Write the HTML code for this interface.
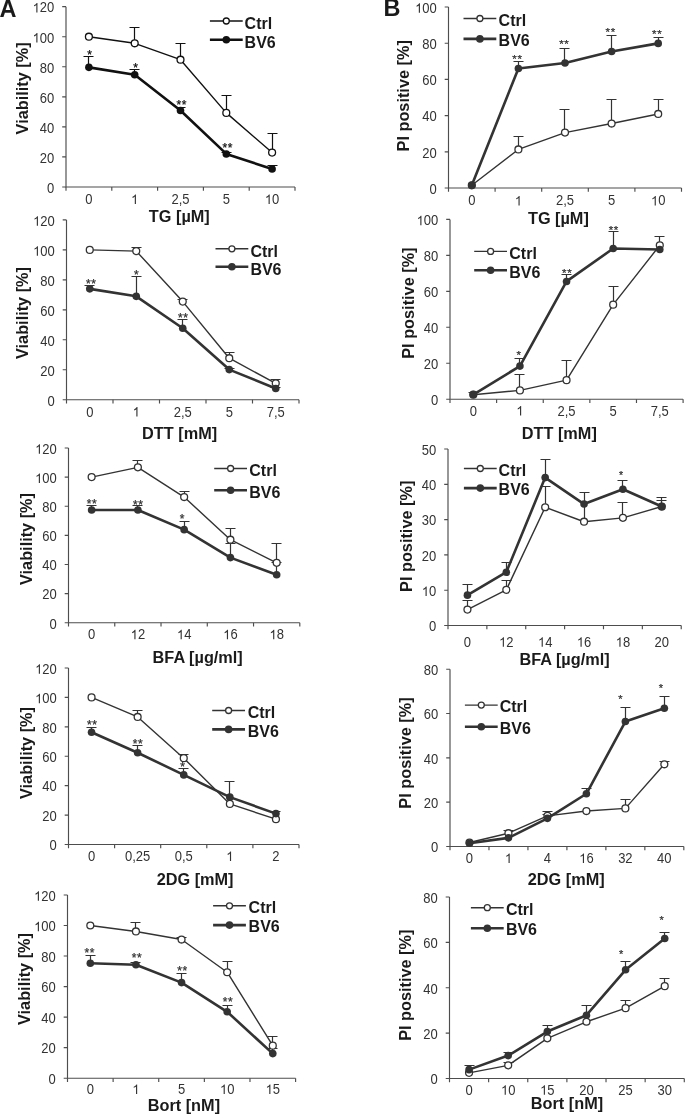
<!DOCTYPE html>
<html><head><meta charset="utf-8"><title>Figure</title>
<style>
html,body{margin:0;padding:0;background:#fff;}
svg{display:block;will-change:transform;}
text{font-family:"Liberation Sans", sans-serif;}
.tl{font-size:13px;fill:#333;}
.tt{font-size:16.3px;font-weight:bold;fill:#1a1a1a;}
.lg{font-size:16px;font-weight:bold;fill:#1a1a1a;}
.st{font-size:12px;}
.pl{font-size:23.5px;font-weight:bold;fill:#1a1a1a;}
</style></head>
<body>
<svg width="685" height="1114" viewBox="0 0 685 1114">
<rect width="685" height="1114" fill="#fff"/>
<text x="-0.5" y="17.2" class="pl">A</text>
<text x="383.4" y="16.4" class="pl">B</text>
<path d="M66 6.64V187H295" fill="none" stroke="#4d4d4d" stroke-width="1.15"/>
<path d="M62.2 187H66M62.2 156.94H66M62.2 126.88H66M62.2 96.82H66M62.2 66.76H66M62.2 36.7H66M62.2 6.64H66M66 187V190.8M111.8 187V190.8M157.6 187V190.8M203.4 187V190.8M249.2 187V190.8M295 187V190.8" fill="none" stroke="#4d4d4d" stroke-width="1.15"/>
<g transform="translate(47.07 192.8) scale(1 1.06)"><text x="0" y="0" class="tl">0</text></g>
<g transform="translate(39.84 162.74) scale(1 1.06)"><text x="0" y="0" class="tl">20</text></g>
<g transform="translate(39.84 132.68) scale(1 1.06)"><text x="0" y="0" class="tl">40</text></g>
<g transform="translate(39.84 102.62) scale(1 1.06)"><text x="0" y="0" class="tl">60</text></g>
<g transform="translate(39.84 72.56) scale(1 1.06)"><text x="0" y="0" class="tl">80</text></g>
<g transform="translate(32.61 42.5) scale(1 1.06)"><text x="0" y="0" class="tl"> 00</text><path transform="translate(0 0) scale(0.00635 -0.00635)" d="M763 0L583 0L583 1102C540 1063 483 1023 413 983C343 944 280 914 224 894L224 1061C325 1106 413 1161 489 1224C565 1288 618 1349 649 1409L763 1409Z" fill="#333"/></g>
<g transform="translate(32.61 12.44) scale(1 1.06)"><text x="0" y="0" class="tl"> 20</text><path transform="translate(0 0) scale(0.00635 -0.00635)" d="M763 0L583 0L583 1102C540 1063 483 1023 413 983C343 944 280 914 224 894L224 1061C325 1106 413 1161 489 1224C565 1288 618 1349 649 1409L763 1409Z" fill="#333"/></g>
<g transform="translate(85.29 204) scale(1 1.06)"><text x="0" y="0" class="tl">0</text></g>
<g transform="translate(131.09 204) scale(1 1.06)"><path transform="translate(0 0) scale(0.00635 -0.00635)" d="M763 0L583 0L583 1102C540 1063 483 1023 413 983C343 944 280 914 224 894L224 1061C325 1106 413 1161 489 1224C565 1288 618 1349 649 1409L763 1409Z" fill="#333"/></g>
<g transform="translate(171.46 204) scale(1 1.06)"><text x="0" y="0" class="tl">2,5</text></g>
<g transform="translate(222.69 204) scale(1 1.06)"><text x="0" y="0" class="tl">5</text></g>
<g transform="translate(264.87 204) scale(1 1.06)"><text x="0" y="0" class="tl"> 0</text><path transform="translate(0 0) scale(0.00635 -0.00635)" d="M763 0L583 0L583 1102C540 1063 483 1023 413 983C343 944 280 914 224 894L224 1061C325 1106 413 1161 489 1224C565 1288 618 1349 649 1409L763 1409Z" fill="#333"/></g>
<text x="179.3" y="221.8" text-anchor="middle" class="tt">TG [µM]</text>
<text transform="translate(27.5 88.4) rotate(-90)" text-anchor="middle" class="tt" font-size="16.3">Viability [%]</text>
<path d="M134.5 43.31V27.5M129.5 27.5H139.5M180.5 59.7V43.5M175.5 43.5H185.5M226.5 112.9V95.5M221.5 95.5H231.5M272.5 152.58V133.5M267.5 133.5H277.5" fill="none" stroke="#111" stroke-width="1.2"/>
<path d="M88.5 67.36V56.5M83.5 56.5H93.5M134.5 74.73V69.5M129.5 69.5H139.5M180.5 110.5V107.5M175.5 107.5H185.5M226.5 153.93V152.5M221.5 152.5H231.5M272.5 168.96V165.5M267.5 165.5H277.5" fill="none" stroke="#111" stroke-width="1.2"/>
<polyline points="88.9,36.7 134.7,43.31 180.5,59.7 226.3,112.9 272.1,152.58" fill="none" stroke="#111" stroke-width="1.4" stroke-linejoin="round"/>
<circle cx="88.9" cy="36.7" r="3.45" fill="#fff" stroke="#111" stroke-width="1.3"/>
<circle cx="134.7" cy="43.31" r="3.45" fill="#fff" stroke="#111" stroke-width="1.3"/>
<circle cx="180.5" cy="59.7" r="3.45" fill="#fff" stroke="#111" stroke-width="1.3"/>
<circle cx="226.3" cy="112.9" r="3.45" fill="#fff" stroke="#111" stroke-width="1.3"/>
<circle cx="272.1" cy="152.58" r="3.45" fill="#fff" stroke="#111" stroke-width="1.3"/>
<polyline points="88.9,67.36 134.7,74.73 180.5,110.5 226.3,153.93 272.1,168.96" fill="none" stroke="#111" stroke-width="2.6" stroke-linejoin="round"/>
<circle cx="88.9" cy="67.36" r="3.8" fill="#111"/>
<circle cx="134.7" cy="74.73" r="3.8" fill="#111"/>
<circle cx="180.5" cy="110.5" r="3.8" fill="#111"/>
<circle cx="226.3" cy="153.93" r="3.8" fill="#111"/>
<circle cx="272.1" cy="168.96" r="3.8" fill="#111"/>
<text x="89.5" y="58.9" text-anchor="middle" font-size="12" fill="#111" stroke="#111" stroke-width="0.25">*</text>
<text x="135.5" y="71.5" text-anchor="middle" font-size="12" fill="#111" stroke="#111" stroke-width="0.25">*</text>
<text x="178.8" y="109.4" text-anchor="middle" font-size="12" fill="#111" stroke="#111" stroke-width="0.25">*</text>
<text x="184" y="109.4" text-anchor="middle" font-size="12" fill="#111" stroke="#111" stroke-width="0.25">*</text>
<text x="224.9" y="152.1" text-anchor="middle" font-size="12" fill="#111" stroke="#111" stroke-width="0.25">*</text>
<text x="230.1" y="152.1" text-anchor="middle" font-size="12" fill="#111" stroke="#111" stroke-width="0.25">*</text>
<path d="M209.9 21H242.7" stroke="#111" stroke-width="1.4"/>
<circle cx="226.3" cy="21" r="3.0" fill="#fff" stroke="#111" stroke-width="1.3"/>
<path d="M209.9 39.8H242.7" stroke="#111" stroke-width="2.6"/>
<circle cx="226.3" cy="39.8" r="3.8" fill="#111"/>
<text x="244.6" y="28.8" class="lg">Ctrl</text>
<text x="244.6" y="47.6" class="lg">BV6</text>
<path d="M66.5 219.94V399.7H299" fill="none" stroke="#4d4d4d" stroke-width="1.15"/>
<path d="M62.7 399.7H66.5M62.7 369.74H66.5M62.7 339.78H66.5M62.7 309.82H66.5M62.7 279.86H66.5M62.7 249.9H66.5M62.7 219.94H66.5M66.5 399.7V403.5M113 399.7V403.5M159.5 399.7V403.5M206 399.7V403.5M252.5 399.7V403.5M299 399.7V403.5" fill="none" stroke="#4d4d4d" stroke-width="1.15"/>
<g transform="translate(47.57 405.5) scale(1 1.06)"><text x="0" y="0" class="tl">0</text></g>
<g transform="translate(40.34 375.54) scale(1 1.06)"><text x="0" y="0" class="tl">20</text></g>
<g transform="translate(40.34 345.58) scale(1 1.06)"><text x="0" y="0" class="tl">40</text></g>
<g transform="translate(40.34 315.62) scale(1 1.06)"><text x="0" y="0" class="tl">60</text></g>
<g transform="translate(40.34 285.66) scale(1 1.06)"><text x="0" y="0" class="tl">80</text></g>
<g transform="translate(33.11 255.7) scale(1 1.06)"><text x="0" y="0" class="tl"> 00</text><path transform="translate(0 0) scale(0.00635 -0.00635)" d="M763 0L583 0L583 1102C540 1063 483 1023 413 983C343 944 280 914 224 894L224 1061C325 1106 413 1161 489 1224C565 1288 618 1349 649 1409L763 1409Z" fill="#333"/></g>
<g transform="translate(33.11 225.74) scale(1 1.06)"><text x="0" y="0" class="tl"> 20</text><path transform="translate(0 0) scale(0.00635 -0.00635)" d="M763 0L583 0L583 1102C540 1063 483 1023 413 983C343 944 280 914 224 894L224 1061C325 1106 413 1161 489 1224C565 1288 618 1349 649 1409L763 1409Z" fill="#333"/></g>
<g transform="translate(86.14 416.6) scale(1 1.06)"><text x="0" y="0" class="tl">0</text></g>
<g transform="translate(132.64 416.6) scale(1 1.06)"><path transform="translate(0 0) scale(0.00635 -0.00635)" d="M763 0L583 0L583 1102C540 1063 483 1023 413 983C343 944 280 914 224 894L224 1061C325 1106 413 1161 489 1224C565 1288 618 1349 649 1409L763 1409Z" fill="#333"/></g>
<g transform="translate(173.71 416.6) scale(1 1.06)"><text x="0" y="0" class="tl">2,5</text></g>
<g transform="translate(225.64 416.6) scale(1 1.06)"><text x="0" y="0" class="tl">5</text></g>
<g transform="translate(266.71 416.6) scale(1 1.06)"><text x="0" y="0" class="tl">7,5</text></g>
<text x="179.6" y="439.2" text-anchor="middle" class="tt">DTT [mM]</text>
<text transform="translate(28.4 313) rotate(-90)" text-anchor="middle" class="tt" font-size="16.3">Viability [%]</text>
<path d="M136.5 251.1V247.5M131.5 247.5H141.5M182.5 301.58V299.5M177.5 299.5H187.5M229.5 358.21V352.5M224.5 352.5H234.5M275.5 383.37V379.5M270.5 379.5H280.5" fill="none" stroke="#333" stroke-width="1.2"/>
<path d="M89.5 288.85V285.5M84.5 285.5H94.5M136.5 296.34V276.5M131.5 276.5H141.5M182.5 328.25V319.5M177.5 319.5H187.5M229.5 369.59V368.5M224.5 368.5H234.5M275.5 388.46V387.5M270.5 387.5H280.5" fill="none" stroke="#333" stroke-width="1.2"/>
<polyline points="89.75,249.9 136.25,251.1 182.75,301.58 229.25,358.21 275.75,383.37" fill="none" stroke="#333" stroke-width="1.4" stroke-linejoin="round"/>
<circle cx="89.75" cy="249.9" r="3.45" fill="#fff" stroke="#333" stroke-width="1.3"/>
<circle cx="136.25" cy="251.1" r="3.45" fill="#fff" stroke="#333" stroke-width="1.3"/>
<circle cx="182.75" cy="301.58" r="3.45" fill="#fff" stroke="#333" stroke-width="1.3"/>
<circle cx="229.25" cy="358.21" r="3.45" fill="#fff" stroke="#333" stroke-width="1.3"/>
<circle cx="275.75" cy="383.37" r="3.45" fill="#fff" stroke="#333" stroke-width="1.3"/>
<polyline points="89.75,288.85 136.25,296.34 182.75,328.25 229.25,369.59 275.75,388.46" fill="none" stroke="#333" stroke-width="2.6" stroke-linejoin="round"/>
<circle cx="89.75" cy="288.85" r="3.8" fill="#333"/>
<circle cx="136.25" cy="296.34" r="3.8" fill="#333"/>
<circle cx="182.75" cy="328.25" r="3.8" fill="#333"/>
<circle cx="229.25" cy="369.59" r="3.8" fill="#333"/>
<circle cx="275.75" cy="388.46" r="3.8" fill="#333"/>
<text x="88.4" y="287.9" text-anchor="middle" font-size="12" fill="#333" stroke="#333" stroke-width="0.25">*</text>
<text x="93.6" y="287.9" text-anchor="middle" font-size="12" fill="#333" stroke="#333" stroke-width="0.25">*</text>
<text x="136.25" y="278.8" text-anchor="middle" font-size="12" fill="#333" stroke="#333" stroke-width="0.25">*</text>
<text x="180.4" y="321.9" text-anchor="middle" font-size="12" fill="#333" stroke="#333" stroke-width="0.25">*</text>
<text x="185.6" y="321.9" text-anchor="middle" font-size="12" fill="#333" stroke="#333" stroke-width="0.25">*</text>
<path d="M215.5 248.8H248.3" stroke="#333" stroke-width="1.4"/>
<circle cx="231.9" cy="248.8" r="3.0" fill="#fff" stroke="#333" stroke-width="1.3"/>
<path d="M215.5 266.8H248.3" stroke="#333" stroke-width="2.6"/>
<circle cx="231.9" cy="266.8" r="3.8" fill="#333"/>
<text x="250.4" y="256.5" class="lg">Ctrl</text>
<text x="250.4" y="274.5" class="lg">BV6</text>
<path d="M68.5 447.98V622.7H299.8" fill="none" stroke="#4d4d4d" stroke-width="1.15"/>
<path d="M64.7 622.7H68.5M64.7 593.58H68.5M64.7 564.46H68.5M64.7 535.34H68.5M64.7 506.22H68.5M64.7 477.1H68.5M64.7 447.98H68.5M68.5 622.7V626.5M114.76 622.7V626.5M161.02 622.7V626.5M207.28 622.7V626.5M253.54 622.7V626.5M299.8 622.7V626.5" fill="none" stroke="#4d4d4d" stroke-width="1.15"/>
<g transform="translate(49.57 628.5) scale(1 1.06)"><text x="0" y="0" class="tl">0</text></g>
<g transform="translate(42.34 599.38) scale(1 1.06)"><text x="0" y="0" class="tl">20</text></g>
<g transform="translate(42.34 570.26) scale(1 1.06)"><text x="0" y="0" class="tl">40</text></g>
<g transform="translate(42.34 541.14) scale(1 1.06)"><text x="0" y="0" class="tl">60</text></g>
<g transform="translate(42.34 512.02) scale(1 1.06)"><text x="0" y="0" class="tl">80</text></g>
<g transform="translate(35.11 482.9) scale(1 1.06)"><text x="0" y="0" class="tl"> 00</text><path transform="translate(0 0) scale(0.00635 -0.00635)" d="M763 0L583 0L583 1102C540 1063 483 1023 413 983C343 944 280 914 224 894L224 1061C325 1106 413 1161 489 1224C565 1288 618 1349 649 1409L763 1409Z" fill="#333"/></g>
<g transform="translate(35.11 453.78) scale(1 1.06)"><text x="0" y="0" class="tl"> 20</text><path transform="translate(0 0) scale(0.00635 -0.00635)" d="M763 0L583 0L583 1102C540 1063 483 1023 413 983C343 944 280 914 224 894L224 1061C325 1106 413 1161 489 1224C565 1288 618 1349 649 1409L763 1409Z" fill="#333"/></g>
<g transform="translate(88.02 639.3) scale(1 1.06)"><text x="0" y="0" class="tl">0</text></g>
<g transform="translate(130.66 639.3) scale(1 1.06)"><text x="0" y="0" class="tl"> 2</text><path transform="translate(0 0) scale(0.00635 -0.00635)" d="M763 0L583 0L583 1102C540 1063 483 1023 413 983C343 944 280 914 224 894L224 1061C325 1106 413 1161 489 1224C565 1288 618 1349 649 1409L763 1409Z" fill="#333"/></g>
<g transform="translate(176.92 639.3) scale(1 1.06)"><text x="0" y="0" class="tl"> 4</text><path transform="translate(0 0) scale(0.00635 -0.00635)" d="M763 0L583 0L583 1102C540 1063 483 1023 413 983C343 944 280 914 224 894L224 1061C325 1106 413 1161 489 1224C565 1288 618 1349 649 1409L763 1409Z" fill="#333"/></g>
<g transform="translate(223.18 639.3) scale(1 1.06)"><text x="0" y="0" class="tl"> 6</text><path transform="translate(0 0) scale(0.00635 -0.00635)" d="M763 0L583 0L583 1102C540 1063 483 1023 413 983C343 944 280 914 224 894L224 1061C325 1106 413 1161 489 1224C565 1288 618 1349 649 1409L763 1409Z" fill="#333"/></g>
<g transform="translate(269.44 639.3) scale(1 1.06)"><text x="0" y="0" class="tl"> 8</text><path transform="translate(0 0) scale(0.00635 -0.00635)" d="M763 0L583 0L583 1102C540 1063 483 1023 413 983C343 944 280 914 224 894L224 1061C325 1106 413 1161 489 1224C565 1288 618 1349 649 1409L763 1409Z" fill="#333"/></g>
<text x="197.7" y="663.4" text-anchor="middle" class="tt" font-size="16.5">BFA [µg/ml]</text>
<text transform="translate(32 539) rotate(-90)" text-anchor="middle" class="tt" font-size="16.3">Viability [%]</text>
<path d="M137.5 467.34V460.5M132.5 460.5H142.5M184.5 497.05V491.5M179.5 491.5H189.5M230.5 539.71V528.5M225.5 528.5H235.5M276.5 562.86V543.5M271.5 543.5H281.5" fill="none" stroke="#333" stroke-width="1.2"/>
<path d="M91.5 510.01V505.5M86.5 505.5H96.5M137.5 510.01V505.5M132.5 505.5H142.5M184.5 529.66V521.5M179.5 521.5H189.5M230.5 557.62V543.5M225.5 543.5H235.5M276.5 574.8V562.5M271.5 562.5H281.5" fill="none" stroke="#333" stroke-width="1.2"/>
<polyline points="91.63,477.1 137.89,467.34 184.15,497.05 230.41,539.71 276.67,562.86" fill="none" stroke="#333" stroke-width="1.4" stroke-linejoin="round"/>
<circle cx="91.63" cy="477.1" r="3.45" fill="#fff" stroke="#333" stroke-width="1.3"/>
<circle cx="137.89" cy="467.34" r="3.45" fill="#fff" stroke="#333" stroke-width="1.3"/>
<circle cx="184.15" cy="497.05" r="3.45" fill="#fff" stroke="#333" stroke-width="1.3"/>
<circle cx="230.41" cy="539.71" r="3.45" fill="#fff" stroke="#333" stroke-width="1.3"/>
<circle cx="276.67" cy="562.86" r="3.45" fill="#fff" stroke="#333" stroke-width="1.3"/>
<polyline points="91.63,510.01 137.89,510.01 184.15,529.66 230.41,557.62 276.67,574.8" fill="none" stroke="#333" stroke-width="2.6" stroke-linejoin="round"/>
<circle cx="91.63" cy="510.01" r="3.8" fill="#333"/>
<circle cx="137.89" cy="510.01" r="3.8" fill="#333"/>
<circle cx="184.15" cy="529.66" r="3.8" fill="#333"/>
<circle cx="230.41" cy="557.62" r="3.8" fill="#333"/>
<circle cx="276.67" cy="574.8" r="3.8" fill="#333"/>
<text x="89.13" y="507.6" text-anchor="middle" font-size="12" fill="#333" stroke="#333" stroke-width="0.25">*</text>
<text x="94.33" y="507.6" text-anchor="middle" font-size="12" fill="#333" stroke="#333" stroke-width="0.25">*</text>
<text x="135.39" y="509.4" text-anchor="middle" font-size="12" fill="#333" stroke="#333" stroke-width="0.25">*</text>
<text x="140.59" y="509.4" text-anchor="middle" font-size="12" fill="#333" stroke="#333" stroke-width="0.25">*</text>
<text x="182.15" y="523.2" text-anchor="middle" font-size="12" fill="#333" stroke="#333" stroke-width="0.25">*</text>
<path d="M214.2 468.5H247" stroke="#333" stroke-width="1.4"/>
<circle cx="230.6" cy="468.5" r="3.0" fill="#fff" stroke="#333" stroke-width="1.3"/>
<path d="M214.2 490.2H247" stroke="#333" stroke-width="2.6"/>
<circle cx="230.6" cy="490.2" r="3.8" fill="#333"/>
<text x="249.3" y="476" class="lg">Ctrl</text>
<text x="249.3" y="497.7" class="lg">BV6</text>
<path d="M68.5 667.98V844.5H299" fill="none" stroke="#4d4d4d" stroke-width="1.15"/>
<path d="M64.7 844.5H68.5M64.7 815.08H68.5M64.7 785.66H68.5M64.7 756.24H68.5M64.7 726.82H68.5M64.7 697.4H68.5M64.7 667.98H68.5M68.5 844.5V848.3M114.6 844.5V848.3M160.7 844.5V848.3M206.8 844.5V848.3M252.9 844.5V848.3M299 844.5V848.3" fill="none" stroke="#4d4d4d" stroke-width="1.15"/>
<g transform="translate(49.57 850.3) scale(1 1.06)"><text x="0" y="0" class="tl">0</text></g>
<g transform="translate(42.34 820.88) scale(1 1.06)"><text x="0" y="0" class="tl">20</text></g>
<g transform="translate(42.34 791.46) scale(1 1.06)"><text x="0" y="0" class="tl">40</text></g>
<g transform="translate(42.34 762.04) scale(1 1.06)"><text x="0" y="0" class="tl">60</text></g>
<g transform="translate(42.34 732.62) scale(1 1.06)"><text x="0" y="0" class="tl">80</text></g>
<g transform="translate(35.11 703.2) scale(1 1.06)"><text x="0" y="0" class="tl"> 00</text><path transform="translate(0 0) scale(0.00635 -0.00635)" d="M763 0L583 0L583 1102C540 1063 483 1023 413 983C343 944 280 914 224 894L224 1061C325 1106 413 1161 489 1224C565 1288 618 1349 649 1409L763 1409Z" fill="#333"/></g>
<g transform="translate(35.11 673.78) scale(1 1.06)"><text x="0" y="0" class="tl"> 20</text><path transform="translate(0 0) scale(0.00635 -0.00635)" d="M763 0L583 0L583 1102C540 1063 483 1023 413 983C343 944 280 914 224 894L224 1061C325 1106 413 1161 489 1224C565 1288 618 1349 649 1409L763 1409Z" fill="#333"/></g>
<g transform="translate(87.94 861) scale(1 1.06)"><text x="0" y="0" class="tl">0</text></g>
<g transform="translate(125 861) scale(1 1.06)"><text x="0" y="0" class="tl">0,25</text></g>
<g transform="translate(174.71 861) scale(1 1.06)"><text x="0" y="0" class="tl">0,5</text></g>
<g transform="translate(226.24 861) scale(1 1.06)"><path transform="translate(0 0) scale(0.00635 -0.00635)" d="M763 0L583 0L583 1102C540 1063 483 1023 413 983C343 944 280 914 224 894L224 1061C325 1106 413 1161 489 1224C565 1288 618 1349 649 1409L763 1409Z" fill="#333"/></g>
<g transform="translate(272.34 861) scale(1 1.06)"><text x="0" y="0" class="tl">2</text></g>
<text x="195.1" y="885" text-anchor="middle" class="tt">2DG [mM]</text>
<text transform="translate(32 753) rotate(-90)" text-anchor="middle" class="tt" font-size="16.3">Viability [%]</text>
<path d="M137.5 716.96V710.5M132.5 710.5H142.5M183.5 758.15V754.5M178.5 754.5H188.5" fill="none" stroke="#333" stroke-width="1.2"/>
<path d="M91.5 732.26V727.5M86.5 727.5H96.5M137.5 752.71V745.5M132.5 745.5H142.5M183.5 774.92V768.5M178.5 768.5H188.5M229.5 797.13V781.5M224.5 781.5H234.5M275.5 813.61V811.5M270.5 811.5H280.5" fill="none" stroke="#333" stroke-width="1.2"/>
<polyline points="91.55,697.4 137.65,716.96 183.75,758.15 229.85,803.9 275.95,819.2" fill="none" stroke="#333" stroke-width="1.4" stroke-linejoin="round"/>
<circle cx="91.55" cy="697.4" r="3.45" fill="#fff" stroke="#333" stroke-width="1.3"/>
<circle cx="137.65" cy="716.96" r="3.45" fill="#fff" stroke="#333" stroke-width="1.3"/>
<circle cx="183.75" cy="758.15" r="3.45" fill="#fff" stroke="#333" stroke-width="1.3"/>
<circle cx="229.85" cy="803.9" r="3.45" fill="#fff" stroke="#333" stroke-width="1.3"/>
<circle cx="275.95" cy="819.2" r="3.45" fill="#fff" stroke="#333" stroke-width="1.3"/>
<polyline points="91.55,732.26 137.65,752.71 183.75,774.92 229.85,797.13 275.95,813.61" fill="none" stroke="#333" stroke-width="2.6" stroke-linejoin="round"/>
<circle cx="91.55" cy="732.26" r="3.8" fill="#333"/>
<circle cx="137.65" cy="752.71" r="3.8" fill="#333"/>
<circle cx="183.75" cy="774.92" r="3.8" fill="#333"/>
<circle cx="229.85" cy="797.13" r="3.8" fill="#333"/>
<circle cx="275.95" cy="813.61" r="3.8" fill="#333"/>
<text x="89.35" y="729.3" text-anchor="middle" font-size="12" fill="#333" stroke="#333" stroke-width="0.25">*</text>
<text x="94.55" y="729.3" text-anchor="middle" font-size="12" fill="#333" stroke="#333" stroke-width="0.25">*</text>
<text x="135.05" y="747.7" text-anchor="middle" font-size="12" fill="#333" stroke="#333" stroke-width="0.25">*</text>
<text x="140.25" y="747.7" text-anchor="middle" font-size="12" fill="#333" stroke="#333" stroke-width="0.25">*</text>
<text x="182.65" y="771.4" text-anchor="middle" font-size="12" fill="#333" stroke="#333" stroke-width="0.25">*</text>
<path d="M212.2 710.5H245" stroke="#333" stroke-width="1.4"/>
<circle cx="228.6" cy="710.5" r="3.0" fill="#fff" stroke="#333" stroke-width="1.3"/>
<path d="M212.2 729.4H245" stroke="#333" stroke-width="2.6"/>
<circle cx="228.6" cy="729.4" r="3.8" fill="#333"/>
<text x="247.7" y="717.9" class="lg">Ctrl</text>
<text x="247.7" y="736.8" class="lg">BV6</text>
<path d="M67.5 894.96V1078.2H295.6" fill="none" stroke="#4d4d4d" stroke-width="1.15"/>
<path d="M63.7 1078.2H67.5M63.7 1047.66H67.5M63.7 1017.12H67.5M63.7 986.58H67.5M63.7 956.04H67.5M63.7 925.5H67.5M63.7 894.96H67.5M67.5 1078.2V1082M113.12 1078.2V1082M158.74 1078.2V1082M204.36 1078.2V1082M249.98 1078.2V1082M295.6 1078.2V1082" fill="none" stroke="#4d4d4d" stroke-width="1.15"/>
<g transform="translate(48.57 1084) scale(1 1.06)"><text x="0" y="0" class="tl">0</text></g>
<g transform="translate(41.34 1053.46) scale(1 1.06)"><text x="0" y="0" class="tl">20</text></g>
<g transform="translate(41.34 1022.92) scale(1 1.06)"><text x="0" y="0" class="tl">40</text></g>
<g transform="translate(41.34 992.38) scale(1 1.06)"><text x="0" y="0" class="tl">60</text></g>
<g transform="translate(41.34 961.84) scale(1 1.06)"><text x="0" y="0" class="tl">80</text></g>
<g transform="translate(34.11 931.3) scale(1 1.06)"><text x="0" y="0" class="tl"> 00</text><path transform="translate(0 0) scale(0.00635 -0.00635)" d="M763 0L583 0L583 1102C540 1063 483 1023 413 983C343 944 280 914 224 894L224 1061C325 1106 413 1161 489 1224C565 1288 618 1349 649 1409L763 1409Z" fill="#333"/></g>
<g transform="translate(34.11 900.76) scale(1 1.06)"><text x="0" y="0" class="tl"> 20</text><path transform="translate(0 0) scale(0.00635 -0.00635)" d="M763 0L583 0L583 1102C540 1063 483 1023 413 983C343 944 280 914 224 894L224 1061C325 1106 413 1161 489 1224C565 1288 618 1349 649 1409L763 1409Z" fill="#333"/></g>
<g transform="translate(86.7 1093.9) scale(1 1.06)"><text x="0" y="0" class="tl">0</text></g>
<g transform="translate(132.32 1093.9) scale(1 1.06)"><path transform="translate(0 0) scale(0.00635 -0.00635)" d="M763 0L583 0L583 1102C540 1063 483 1023 413 983C343 944 280 914 224 894L224 1061C325 1106 413 1161 489 1224C565 1288 618 1349 649 1409L763 1409Z" fill="#333"/></g>
<g transform="translate(177.94 1093.9) scale(1 1.06)"><text x="0" y="0" class="tl">5</text></g>
<g transform="translate(219.94 1093.9) scale(1 1.06)"><text x="0" y="0" class="tl"> 0</text><path transform="translate(0 0) scale(0.00635 -0.00635)" d="M763 0L583 0L583 1102C540 1063 483 1023 413 983C343 944 280 914 224 894L224 1061C325 1106 413 1161 489 1224C565 1288 618 1349 649 1409L763 1409Z" fill="#333"/></g>
<g transform="translate(265.56 1093.9) scale(1 1.06)"><text x="0" y="0" class="tl"> 5</text><path transform="translate(0 0) scale(0.00635 -0.00635)" d="M763 0L583 0L583 1102C540 1063 483 1023 413 983C343 944 280 914 224 894L224 1061C325 1106 413 1161 489 1224C565 1288 618 1349 649 1409L763 1409Z" fill="#333"/></g>
<text x="183.9" y="1110.5" text-anchor="middle" class="tt">Bort [nM]</text>
<text transform="translate(29.6 979) rotate(-90)" text-anchor="middle" class="tt" font-size="16.3">Viability [%]</text>
<path d="M135.5 931.46V922.5M130.5 922.5H140.5M181.5 939.55V937.5M176.5 937.5H186.5M227.5 972.23V961.5M222.5 961.5H232.5M272.5 1045.67V1036.5M267.5 1036.5H277.5" fill="none" stroke="#333" stroke-width="1.2"/>
<path d="M90.5 963.22V955.5M85.5 955.5H95.5M135.5 964.74V962.5M130.5 962.5H140.5M181.5 982.61V973.5M176.5 973.5H186.5M227.5 1011.78V1005.5M222.5 1005.5H232.5M272.5 1053.62V1048.5M267.5 1048.5H277.5" fill="none" stroke="#333" stroke-width="1.2"/>
<polyline points="90.31,925.5 135.93,931.46 181.55,939.55 227.17,972.23 272.79,1045.67" fill="none" stroke="#333" stroke-width="1.4" stroke-linejoin="round"/>
<circle cx="90.31" cy="925.5" r="3.45" fill="#fff" stroke="#333" stroke-width="1.3"/>
<circle cx="135.93" cy="931.46" r="3.45" fill="#fff" stroke="#333" stroke-width="1.3"/>
<circle cx="181.55" cy="939.55" r="3.45" fill="#fff" stroke="#333" stroke-width="1.3"/>
<circle cx="227.17" cy="972.23" r="3.45" fill="#fff" stroke="#333" stroke-width="1.3"/>
<circle cx="272.79" cy="1045.67" r="3.45" fill="#fff" stroke="#333" stroke-width="1.3"/>
<polyline points="90.31,963.22 135.93,964.74 181.55,982.61 227.17,1011.78 272.79,1053.62" fill="none" stroke="#333" stroke-width="2.6" stroke-linejoin="round"/>
<circle cx="90.31" cy="963.22" r="3.8" fill="#333"/>
<circle cx="135.93" cy="964.74" r="3.8" fill="#333"/>
<circle cx="181.55" cy="982.61" r="3.8" fill="#333"/>
<circle cx="227.17" cy="1011.78" r="3.8" fill="#333"/>
<circle cx="272.79" cy="1053.62" r="3.8" fill="#333"/>
<text x="86.91" y="956.5" text-anchor="middle" font-size="12" fill="#333" stroke="#333" stroke-width="0.25">*</text>
<text x="92.11" y="956.5" text-anchor="middle" font-size="12" fill="#333" stroke="#333" stroke-width="0.25">*</text>
<text x="134.13" y="962.4" text-anchor="middle" font-size="12" fill="#333" stroke="#333" stroke-width="0.25">*</text>
<text x="139.33" y="962.4" text-anchor="middle" font-size="12" fill="#333" stroke="#333" stroke-width="0.25">*</text>
<text x="179.55" y="975" text-anchor="middle" font-size="12" fill="#333" stroke="#333" stroke-width="0.25">*</text>
<text x="184.75" y="975" text-anchor="middle" font-size="12" fill="#333" stroke="#333" stroke-width="0.25">*</text>
<text x="225.07" y="1005.9" text-anchor="middle" font-size="12" fill="#333" stroke="#333" stroke-width="0.25">*</text>
<text x="230.27" y="1005.9" text-anchor="middle" font-size="12" fill="#333" stroke="#333" stroke-width="0.25">*</text>
<path d="M213.1 905.8H245.9" stroke="#333" stroke-width="1.4"/>
<circle cx="229.5" cy="905.8" r="3.0" fill="#fff" stroke="#333" stroke-width="1.3"/>
<path d="M213.1 925.1H245.9" stroke="#333" stroke-width="2.6"/>
<circle cx="229.5" cy="925.1" r="3.8" fill="#333"/>
<text x="248.6" y="912.7" class="lg">Ctrl</text>
<text x="248.6" y="932" class="lg">BV6</text>
<path d="M448.5 7V188H681.5" fill="none" stroke="#4d4d4d" stroke-width="1.15"/>
<path d="M444.7 188H448.5M444.7 151.8H448.5M444.7 115.6H448.5M444.7 79.4H448.5M444.7 43.2H448.5M444.7 7H448.5M448.5 188V191.8M495.1 188V191.8M541.7 188V191.8M588.3 188V191.8M634.9 188V191.8M681.5 188V191.8" fill="none" stroke="#4d4d4d" stroke-width="1.15"/>
<g transform="translate(429.57 193.8) scale(1 1.06)"><text x="0" y="0" class="tl">0</text></g>
<g transform="translate(422.34 157.6) scale(1 1.06)"><text x="0" y="0" class="tl">20</text></g>
<g transform="translate(422.34 121.4) scale(1 1.06)"><text x="0" y="0" class="tl">40</text></g>
<g transform="translate(422.34 85.2) scale(1 1.06)"><text x="0" y="0" class="tl">60</text></g>
<g transform="translate(422.34 49) scale(1 1.06)"><text x="0" y="0" class="tl">80</text></g>
<g transform="translate(415.11 12.8) scale(1 1.06)"><text x="0" y="0" class="tl"> 00</text><path transform="translate(0 0) scale(0.00635 -0.00635)" d="M763 0L583 0L583 1102C540 1063 483 1023 413 983C343 944 280 914 224 894L224 1061C325 1106 413 1161 489 1224C565 1288 618 1349 649 1409L763 1409Z" fill="#333"/></g>
<g transform="translate(468.19 205.4) scale(1 1.06)"><text x="0" y="0" class="tl">0</text></g>
<g transform="translate(514.79 205.4) scale(1 1.06)"><path transform="translate(0 0) scale(0.00635 -0.00635)" d="M763 0L583 0L583 1102C540 1063 483 1023 413 983C343 944 280 914 224 894L224 1061C325 1106 413 1161 489 1224C565 1288 618 1349 649 1409L763 1409Z" fill="#333"/></g>
<g transform="translate(555.96 205.4) scale(1 1.06)"><text x="0" y="0" class="tl">2,5</text></g>
<g transform="translate(607.99 205.4) scale(1 1.06)"><text x="0" y="0" class="tl">5</text></g>
<g transform="translate(650.97 205.4) scale(1 1.06)"><text x="0" y="0" class="tl"> 0</text><path transform="translate(0 0) scale(0.00635 -0.00635)" d="M763 0L583 0L583 1102C540 1063 483 1023 413 983C343 944 280 914 224 894L224 1061C325 1106 413 1161 489 1224C565 1288 618 1349 649 1409L763 1409Z" fill="#333"/></g>
<text x="558.4" y="224.2" text-anchor="middle" class="tt">TG [µM]</text>
<text transform="translate(409 95.8) rotate(-90)" text-anchor="middle" class="tt" font-size="16">PI positive [%]</text>
<path d="M518.5 149.45V136.5M513.5 136.5H523.5M564.5 132.61V109.5M559.5 109.5H569.5M611.5 123.56V99.5M606.5 99.5H616.5M658.5 113.97V99.5M653.5 99.5H663.5" fill="none" stroke="#333" stroke-width="1.2"/>
<path d="M518.5 68.54V61.5M513.5 61.5H523.5M564.5 62.93V48.5M559.5 48.5H569.5M611.5 51.53V35.5M606.5 35.5H616.5M658.5 43.38V37.5M653.5 37.5H663.5" fill="none" stroke="#333" stroke-width="1.2"/>
<polyline points="471.8,185.28 518.4,149.45 565,132.61 611.6,123.56 658.2,113.97" fill="none" stroke="#333" stroke-width="1.4" stroke-linejoin="round"/>
<circle cx="471.8" cy="185.28" r="3.45" fill="#fff" stroke="#333" stroke-width="1.3"/>
<circle cx="518.4" cy="149.45" r="3.45" fill="#fff" stroke="#333" stroke-width="1.3"/>
<circle cx="565" cy="132.61" r="3.45" fill="#fff" stroke="#333" stroke-width="1.3"/>
<circle cx="611.6" cy="123.56" r="3.45" fill="#fff" stroke="#333" stroke-width="1.3"/>
<circle cx="658.2" cy="113.97" r="3.45" fill="#fff" stroke="#333" stroke-width="1.3"/>
<polyline points="471.8,185.28 518.4,68.54 565,62.93 611.6,51.53 658.2,43.38" fill="none" stroke="#333" stroke-width="2.6" stroke-linejoin="round"/>
<circle cx="471.8" cy="185.28" r="3.8" fill="#333"/>
<circle cx="518.4" cy="68.54" r="3.8" fill="#333"/>
<circle cx="565" cy="62.93" r="3.8" fill="#333"/>
<circle cx="611.6" cy="51.53" r="3.8" fill="#333"/>
<circle cx="658.2" cy="43.38" r="3.8" fill="#333"/>
<text x="514.6" y="62.95" text-anchor="middle" font-size="11.5" fill="#333" stroke="#333" stroke-width="0.25">*</text>
<text x="519.8" y="62.95" text-anchor="middle" font-size="11.5" fill="#333" stroke="#333" stroke-width="0.25">*</text>
<text x="561.4" y="48.15" text-anchor="middle" font-size="11.5" fill="#333" stroke="#333" stroke-width="0.25">*</text>
<text x="566.6" y="48.15" text-anchor="middle" font-size="11.5" fill="#333" stroke="#333" stroke-width="0.25">*</text>
<text x="607.8" y="35.65" text-anchor="middle" font-size="11.5" fill="#333" stroke="#333" stroke-width="0.25">*</text>
<text x="613" y="35.65" text-anchor="middle" font-size="11.5" fill="#333" stroke="#333" stroke-width="0.25">*</text>
<text x="654.3" y="38.25" text-anchor="middle" font-size="11.5" fill="#333" stroke="#333" stroke-width="0.25">*</text>
<text x="659.5" y="38.25" text-anchor="middle" font-size="11.5" fill="#333" stroke="#333" stroke-width="0.25">*</text>
<path d="M463.5 18.5H496.3" stroke="#333" stroke-width="1.4"/>
<circle cx="479.9" cy="18.5" r="3.0" fill="#fff" stroke="#333" stroke-width="1.3"/>
<path d="M463.5 38.9H496.3" stroke="#333" stroke-width="2.6"/>
<circle cx="479.9" cy="38.9" r="3.8" fill="#333"/>
<text x="498.6" y="26" class="lg">Ctrl</text>
<text x="498.6" y="46.4" class="lg">BV6</text>
<path d="M450 219.4V399.2H683.1" fill="none" stroke="#4d4d4d" stroke-width="1.15"/>
<path d="M446.2 399.2H450M446.2 363.24H450M446.2 327.28H450M446.2 291.32H450M446.2 255.36H450M446.2 219.4H450M450 399.2V403M496.62 399.2V403M543.24 399.2V403M589.86 399.2V403M636.48 399.2V403M683.1 399.2V403" fill="none" stroke="#4d4d4d" stroke-width="1.15"/>
<g transform="translate(431.07 405) scale(1 1.06)"><text x="0" y="0" class="tl">0</text></g>
<g transform="translate(423.84 369.04) scale(1 1.06)"><text x="0" y="0" class="tl">20</text></g>
<g transform="translate(423.84 333.08) scale(1 1.06)"><text x="0" y="0" class="tl">40</text></g>
<g transform="translate(423.84 297.12) scale(1 1.06)"><text x="0" y="0" class="tl">60</text></g>
<g transform="translate(423.84 261.16) scale(1 1.06)"><text x="0" y="0" class="tl">80</text></g>
<g transform="translate(416.61 225.2) scale(1 1.06)"><text x="0" y="0" class="tl"> 00</text><path transform="translate(0 0) scale(0.00635 -0.00635)" d="M763 0L583 0L583 1102C540 1063 483 1023 413 983C343 944 280 914 224 894L224 1061C325 1106 413 1161 489 1224C565 1288 618 1349 649 1409L763 1409Z" fill="#333"/></g>
<g transform="translate(469.7 415.5) scale(1 1.06)"><text x="0" y="0" class="tl">0</text></g>
<g transform="translate(516.32 415.5) scale(1 1.06)"><path transform="translate(0 0) scale(0.00635 -0.00635)" d="M763 0L583 0L583 1102C540 1063 483 1023 413 983C343 944 280 914 224 894L224 1061C325 1106 413 1161 489 1224C565 1288 618 1349 649 1409L763 1409Z" fill="#333"/></g>
<g transform="translate(557.51 415.5) scale(1 1.06)"><text x="0" y="0" class="tl">2,5</text></g>
<g transform="translate(609.56 415.5) scale(1 1.06)"><text x="0" y="0" class="tl">5</text></g>
<g transform="translate(650.75 415.5) scale(1 1.06)"><text x="0" y="0" class="tl">7,5</text></g>
<text x="559.3" y="439.1" text-anchor="middle" class="tt">DTT [mM]</text>
<text transform="translate(414 303.1) rotate(-90)" text-anchor="middle" class="tt" font-size="16">PI positive [%]</text>
<path d="M519.5 390.39V374.5M514.5 374.5H524.5M566.5 380.14V360.5M561.5 360.5H571.5M613.5 304.63V286.5M608.5 286.5H618.5M659.5 245.29V236.5M654.5 236.5H664.5" fill="none" stroke="#333" stroke-width="1.2"/>
<path d="M473.5 394.53V392.5M468.5 392.5H478.5M519.5 366.12V358.5M514.5 358.5H524.5M566.5 281.43V274.5M561.5 274.5H571.5M613.5 248.53V231.5M608.5 231.5H618.5" fill="none" stroke="#333" stroke-width="1.2"/>
<polyline points="473.31,394.7 519.93,390.39 566.55,380.14 613.17,304.63 659.79,245.29" fill="none" stroke="#333" stroke-width="1.4" stroke-linejoin="round"/>
<circle cx="473.31" cy="394.7" r="3.45" fill="#fff" stroke="#333" stroke-width="1.3"/>
<circle cx="519.93" cy="390.39" r="3.45" fill="#fff" stroke="#333" stroke-width="1.3"/>
<circle cx="566.55" cy="380.14" r="3.45" fill="#fff" stroke="#333" stroke-width="1.3"/>
<circle cx="613.17" cy="304.63" r="3.45" fill="#fff" stroke="#333" stroke-width="1.3"/>
<circle cx="659.79" cy="245.29" r="3.45" fill="#fff" stroke="#333" stroke-width="1.3"/>
<polyline points="473.31,394.53 519.93,366.12 566.55,281.43 613.17,248.53 659.79,249.43" fill="none" stroke="#333" stroke-width="2.6" stroke-linejoin="round"/>
<circle cx="473.31" cy="394.53" r="3.8" fill="#333"/>
<circle cx="519.93" cy="366.12" r="3.8" fill="#333"/>
<circle cx="566.55" cy="281.43" r="3.8" fill="#333"/>
<circle cx="613.17" cy="248.53" r="3.8" fill="#333"/>
<circle cx="659.79" cy="249.43" r="3.8" fill="#333"/>
<text x="518.63" y="359.15" text-anchor="middle" font-size="11.5" fill="#333" stroke="#333" stroke-width="0.25">*</text>
<text x="564.35" y="276.95" text-anchor="middle" font-size="11.5" fill="#333" stroke="#333" stroke-width="0.25">*</text>
<text x="569.55" y="276.95" text-anchor="middle" font-size="11.5" fill="#333" stroke="#333" stroke-width="0.25">*</text>
<text x="610.87" y="233.95" text-anchor="middle" font-size="11.5" fill="#333" stroke="#333" stroke-width="0.25">*</text>
<text x="616.07" y="233.95" text-anchor="middle" font-size="11.5" fill="#333" stroke="#333" stroke-width="0.25">*</text>
<path d="M474.2 251.4H507" stroke="#333" stroke-width="1.4"/>
<circle cx="490.6" cy="251.4" r="3.0" fill="#fff" stroke="#333" stroke-width="1.3"/>
<path d="M474.2 270.2H507" stroke="#333" stroke-width="2.6"/>
<circle cx="490.6" cy="270.2" r="3.8" fill="#333"/>
<text x="509.3" y="258.7" class="lg">Ctrl</text>
<text x="509.3" y="277.5" class="lg">BV6</text>
<path d="M448 449V625.5H681.22" fill="none" stroke="#4d4d4d" stroke-width="1.15"/>
<path d="M444.2 625.5H448M444.2 590.2H448M444.2 554.9H448M444.2 519.6H448M444.2 484.3H448M444.2 449H448M448 625.5V629.3M486.87 625.5V629.3M525.74 625.5V629.3M564.61 625.5V629.3M603.48 625.5V629.3M642.35 625.5V629.3M681.22 625.5V629.3" fill="none" stroke="#4d4d4d" stroke-width="1.15"/>
<g transform="translate(429.07 631.3) scale(1 1.06)"><text x="0" y="0" class="tl">0</text></g>
<g transform="translate(421.84 596) scale(1 1.06)"><text x="0" y="0" class="tl"> 0</text><path transform="translate(0 0) scale(0.00635 -0.00635)" d="M763 0L583 0L583 1102C540 1063 483 1023 413 983C343 944 280 914 224 894L224 1061C325 1106 413 1161 489 1224C565 1288 618 1349 649 1409L763 1409Z" fill="#333"/></g>
<g transform="translate(421.84 560.7) scale(1 1.06)"><text x="0" y="0" class="tl">20</text></g>
<g transform="translate(421.84 525.4) scale(1 1.06)"><text x="0" y="0" class="tl">30</text></g>
<g transform="translate(421.84 490.1) scale(1 1.06)"><text x="0" y="0" class="tl">40</text></g>
<g transform="translate(421.84 454.8) scale(1 1.06)"><text x="0" y="0" class="tl">50</text></g>
<g transform="translate(463.82 646.7) scale(1 1.06)"><text x="0" y="0" class="tl">0</text></g>
<g transform="translate(499.08 646.7) scale(1 1.06)"><text x="0" y="0" class="tl"> 2</text><path transform="translate(0 0) scale(0.00635 -0.00635)" d="M763 0L583 0L583 1102C540 1063 483 1023 413 983C343 944 280 914 224 894L224 1061C325 1106 413 1161 489 1224C565 1288 618 1349 649 1409L763 1409Z" fill="#333"/></g>
<g transform="translate(537.95 646.7) scale(1 1.06)"><text x="0" y="0" class="tl"> 4</text><path transform="translate(0 0) scale(0.00635 -0.00635)" d="M763 0L583 0L583 1102C540 1063 483 1023 413 983C343 944 280 914 224 894L224 1061C325 1106 413 1161 489 1224C565 1288 618 1349 649 1409L763 1409Z" fill="#333"/></g>
<g transform="translate(576.82 646.7) scale(1 1.06)"><text x="0" y="0" class="tl"> 6</text><path transform="translate(0 0) scale(0.00635 -0.00635)" d="M763 0L583 0L583 1102C540 1063 483 1023 413 983C343 944 280 914 224 894L224 1061C325 1106 413 1161 489 1224C565 1288 618 1349 649 1409L763 1409Z" fill="#333"/></g>
<g transform="translate(615.69 646.7) scale(1 1.06)"><text x="0" y="0" class="tl"> 8</text><path transform="translate(0 0) scale(0.00635 -0.00635)" d="M763 0L583 0L583 1102C540 1063 483 1023 413 983C343 944 280 914 224 894L224 1061C325 1106 413 1161 489 1224C565 1288 618 1349 649 1409L763 1409Z" fill="#333"/></g>
<g transform="translate(654.56 646.7) scale(1 1.06)"><text x="0" y="0" class="tl">20</text></g>
<text x="564.5" y="665.2" text-anchor="middle" class="tt" font-size="16.5">BFA [µg/ml]</text>
<text transform="translate(412 536.3) rotate(-90)" text-anchor="middle" class="tt" font-size="16">PI positive [%]</text>
<path d="M467.5 609.62V600.5M462.5 600.5H472.5M506.5 589.85V580.5M501.5 580.5H511.5M545.5 507.25V486.5M540.5 486.5H550.5M584.5 521.72V504.07M622.5 517.84V502.5M617.5 502.5H627.5M661.5 506.54V497.5M656.5 497.5H666.5" fill="none" stroke="#333" stroke-width="1.2"/>
<path d="M467.5 595.14V584.5M462.5 584.5H472.5M506.5 572.2V562.5M501.5 562.5H511.5M545.5 477.59V459.5M540.5 459.5H550.5M584.5 504.07V492.5M579.5 492.5H589.5M622.5 489.24V480.5M617.5 480.5H627.5M661.5 506.54V500.5M656.5 500.5H666.5" fill="none" stroke="#333" stroke-width="1.2"/>
<polyline points="467.44,609.62 506.31,589.85 545.17,507.25 584.04,521.72 622.91,517.84 661.78,506.54" fill="none" stroke="#333" stroke-width="1.4" stroke-linejoin="round"/>
<circle cx="467.44" cy="609.62" r="3.45" fill="#fff" stroke="#333" stroke-width="1.3"/>
<circle cx="506.31" cy="589.85" r="3.45" fill="#fff" stroke="#333" stroke-width="1.3"/>
<circle cx="545.17" cy="507.25" r="3.45" fill="#fff" stroke="#333" stroke-width="1.3"/>
<circle cx="584.04" cy="521.72" r="3.45" fill="#fff" stroke="#333" stroke-width="1.3"/>
<circle cx="622.91" cy="517.84" r="3.45" fill="#fff" stroke="#333" stroke-width="1.3"/>
<circle cx="661.78" cy="506.54" r="3.45" fill="#fff" stroke="#333" stroke-width="1.3"/>
<polyline points="467.44,595.14 506.31,572.2 545.17,477.59 584.04,504.07 622.91,489.24 661.78,506.54" fill="none" stroke="#333" stroke-width="2.6" stroke-linejoin="round"/>
<circle cx="467.44" cy="595.14" r="3.8" fill="#333"/>
<circle cx="506.31" cy="572.2" r="3.8" fill="#333"/>
<circle cx="545.17" cy="477.59" r="3.8" fill="#333"/>
<circle cx="584.04" cy="504.07" r="3.8" fill="#333"/>
<circle cx="622.91" cy="489.24" r="3.8" fill="#333"/>
<circle cx="661.78" cy="506.54" r="3.8" fill="#333"/>
<text x="621.12" y="478.75" text-anchor="middle" font-size="10.5" fill="#333" stroke="#333" stroke-width="0.25">*</text>
<path d="M463.9 468.5H496.7" stroke="#333" stroke-width="1.4"/>
<circle cx="480.3" cy="468.5" r="3.0" fill="#fff" stroke="#333" stroke-width="1.3"/>
<path d="M463.9 488.1H496.7" stroke="#333" stroke-width="2.6"/>
<circle cx="480.3" cy="488.1" r="3.8" fill="#333"/>
<text x="498.6" y="475.7" class="lg">Ctrl</text>
<text x="498.6" y="495.3" class="lg">BV6</text>
<path d="M450 669.22V846.5H683.82" fill="none" stroke="#4d4d4d" stroke-width="1.15"/>
<path d="M446.2 846.5H450M446.2 802.18H450M446.2 757.86H450M446.2 713.54H450M446.2 669.22H450M450 846.5V850.3M488.97 846.5V850.3M527.94 846.5V850.3M566.91 846.5V850.3M605.88 846.5V850.3M644.85 846.5V850.3M683.82 846.5V850.3" fill="none" stroke="#4d4d4d" stroke-width="1.15"/>
<g transform="translate(431.07 852.3) scale(1 1.06)"><text x="0" y="0" class="tl">0</text></g>
<g transform="translate(423.84 807.98) scale(1 1.06)"><text x="0" y="0" class="tl">20</text></g>
<g transform="translate(423.84 763.66) scale(1 1.06)"><text x="0" y="0" class="tl">40</text></g>
<g transform="translate(423.84 719.34) scale(1 1.06)"><text x="0" y="0" class="tl">60</text></g>
<g transform="translate(423.84 675.02) scale(1 1.06)"><text x="0" y="0" class="tl">80</text></g>
<g transform="translate(465.87 862.9) scale(1 1.06)"><text x="0" y="0" class="tl">0</text></g>
<g transform="translate(504.84 862.9) scale(1 1.06)"><path transform="translate(0 0) scale(0.00635 -0.00635)" d="M763 0L583 0L583 1102C540 1063 483 1023 413 983C343 944 280 914 224 894L224 1061C325 1106 413 1161 489 1224C565 1288 618 1349 649 1409L763 1409Z" fill="#333"/></g>
<g transform="translate(543.81 862.9) scale(1 1.06)"><text x="0" y="0" class="tl">4</text></g>
<g transform="translate(579.17 862.9) scale(1 1.06)"><text x="0" y="0" class="tl"> 6</text><path transform="translate(0 0) scale(0.00635 -0.00635)" d="M763 0L583 0L583 1102C540 1063 483 1023 413 983C343 944 280 914 224 894L224 1061C325 1106 413 1161 489 1224C565 1288 618 1349 649 1409L763 1409Z" fill="#333"/></g>
<g transform="translate(618.14 862.9) scale(1 1.06)"><text x="0" y="0" class="tl">32</text></g>
<g transform="translate(657.11 862.9) scale(1 1.06)"><text x="0" y="0" class="tl">40</text></g>
<text x="566.2" y="885.1" text-anchor="middle" class="tt">2DG [mM]</text>
<text transform="translate(410.5 753) rotate(-90)" text-anchor="middle" class="tt" font-size="16">PI positive [%]</text>
<path d="M508.5 833.2V830.5M503.5 830.5H513.5M547.5 815.92V814.5M542.5 814.5H552.5M625.5 808.38V799.5M620.5 799.5H630.5M664.5 764.29V761.5M659.5 761.5H669.5" fill="none" stroke="#333" stroke-width="1.2"/>
<path d="M547.5 818.36V811.5M542.5 811.5H552.5M586.5 793.76V788.5M581.5 788.5H591.5M625.5 721.52V707.5M620.5 707.5H630.5M664.5 708.22V696.5M659.5 696.5H669.5" fill="none" stroke="#333" stroke-width="1.2"/>
<polyline points="469.49,842.51 508.45,833.2 547.42,815.92 586.39,811.04 625.37,808.38 664.34,764.29" fill="none" stroke="#333" stroke-width="1.4" stroke-linejoin="round"/>
<circle cx="469.49" cy="842.51" r="3.45" fill="#fff" stroke="#333" stroke-width="1.3"/>
<circle cx="508.45" cy="833.2" r="3.45" fill="#fff" stroke="#333" stroke-width="1.3"/>
<circle cx="547.42" cy="815.92" r="3.45" fill="#fff" stroke="#333" stroke-width="1.3"/>
<circle cx="586.39" cy="811.04" r="3.45" fill="#fff" stroke="#333" stroke-width="1.3"/>
<circle cx="625.37" cy="808.38" r="3.45" fill="#fff" stroke="#333" stroke-width="1.3"/>
<circle cx="664.34" cy="764.29" r="3.45" fill="#fff" stroke="#333" stroke-width="1.3"/>
<polyline points="469.49,843.18 508.45,837.86 547.42,818.36 586.39,793.76 625.37,721.52 664.34,708.22" fill="none" stroke="#333" stroke-width="2.6" stroke-linejoin="round"/>
<circle cx="469.49" cy="843.18" r="3.8" fill="#333"/>
<circle cx="508.45" cy="837.86" r="3.8" fill="#333"/>
<circle cx="547.42" cy="818.36" r="3.8" fill="#333"/>
<circle cx="586.39" cy="793.76" r="3.8" fill="#333"/>
<circle cx="625.37" cy="721.52" r="3.8" fill="#333"/>
<circle cx="664.34" cy="708.22" r="3.8" fill="#333"/>
<text x="620.47" y="703.3" text-anchor="middle" font-size="11" fill="#333" stroke="#333" stroke-width="0.25">*</text>
<text x="660.84" y="691.5" text-anchor="middle" font-size="11" fill="#333" stroke="#333" stroke-width="0.25">*</text>
<path d="M464.9 705.1H497.7" stroke="#333" stroke-width="1.4"/>
<circle cx="481.3" cy="705.1" r="3.0" fill="#fff" stroke="#333" stroke-width="1.3"/>
<path d="M464.9 726.8H497.7" stroke="#333" stroke-width="2.6"/>
<circle cx="481.3" cy="726.8" r="3.8" fill="#333"/>
<text x="499.7" y="712.1" class="lg">Ctrl</text>
<text x="499.7" y="733.8" class="lg">BV6</text>
<path d="M449.5 896.98V1078.5H684.28" fill="none" stroke="#4d4d4d" stroke-width="1.15"/>
<path d="M445.7 1078.5H449.5M445.7 1033.12H449.5M445.7 987.74H449.5M445.7 942.36H449.5M445.7 896.98H449.5M449.5 1078.5V1082.3M488.63 1078.5V1082.3M527.76 1078.5V1082.3M566.89 1078.5V1082.3M606.02 1078.5V1082.3M645.15 1078.5V1082.3M684.28 1078.5V1082.3" fill="none" stroke="#4d4d4d" stroke-width="1.15"/>
<g transform="translate(430.57 1084.3) scale(1 1.06)"><text x="0" y="0" class="tl">0</text></g>
<g transform="translate(423.34 1038.92) scale(1 1.06)"><text x="0" y="0" class="tl">20</text></g>
<g transform="translate(423.34 993.54) scale(1 1.06)"><text x="0" y="0" class="tl">40</text></g>
<g transform="translate(423.34 948.16) scale(1 1.06)"><text x="0" y="0" class="tl">60</text></g>
<g transform="translate(423.34 902.78) scale(1 1.06)"><text x="0" y="0" class="tl">80</text></g>
<g transform="translate(465.45 1094.7) scale(1 1.06)"><text x="0" y="0" class="tl">0</text></g>
<g transform="translate(500.97 1094.7) scale(1 1.06)"><text x="0" y="0" class="tl"> 0</text><path transform="translate(0 0) scale(0.00635 -0.00635)" d="M763 0L583 0L583 1102C540 1063 483 1023 413 983C343 944 280 914 224 894L224 1061C325 1106 413 1161 489 1224C565 1288 618 1349 649 1409L763 1409Z" fill="#333"/></g>
<g transform="translate(540.1 1094.7) scale(1 1.06)"><text x="0" y="0" class="tl"> 5</text><path transform="translate(0 0) scale(0.00635 -0.00635)" d="M763 0L583 0L583 1102C540 1063 483 1023 413 983C343 944 280 914 224 894L224 1061C325 1106 413 1161 489 1224C565 1288 618 1349 649 1409L763 1409Z" fill="#333"/></g>
<g transform="translate(579.23 1094.7) scale(1 1.06)"><text x="0" y="0" class="tl">20</text></g>
<g transform="translate(618.36 1094.7) scale(1 1.06)"><text x="0" y="0" class="tl">25</text></g>
<g transform="translate(657.49 1094.7) scale(1 1.06)"><text x="0" y="0" class="tl">30</text></g>
<text x="567" y="1108.5" text-anchor="middle" class="tt">Bort [nM]</text>
<text transform="translate(411 985.2) rotate(-90)" text-anchor="middle" class="tt" font-size="16">PI positive [%]</text>
<path d="M508.5 1065.34V1062.5M503.5 1062.5H513.5M625.5 1008.16V1000.5M620.5 1000.5H630.5M664.5 986.15V978.5M659.5 978.5H669.5" fill="none" stroke="#333" stroke-width="1.2"/>
<path d="M469.5 1069.65V1065.5M464.5 1065.5H474.5M508.5 1055.58V1052.5M503.5 1052.5H513.5M547.5 1031.53V1025.5M542.5 1025.5H552.5M586.5 1015.19V1005.5M581.5 1005.5H591.5M625.5 969.81V961.5M620.5 961.5H630.5M664.5 938.5V932.5M659.5 932.5H669.5" fill="none" stroke="#333" stroke-width="1.2"/>
<polyline points="469.06,1072.83 508.19,1065.34 547.33,1038.34 586.46,1021.77 625.59,1008.16 664.72,986.15" fill="none" stroke="#333" stroke-width="1.4" stroke-linejoin="round"/>
<circle cx="469.06" cy="1072.83" r="3.45" fill="#fff" stroke="#333" stroke-width="1.3"/>
<circle cx="508.19" cy="1065.34" r="3.45" fill="#fff" stroke="#333" stroke-width="1.3"/>
<circle cx="547.33" cy="1038.34" r="3.45" fill="#fff" stroke="#333" stroke-width="1.3"/>
<circle cx="586.46" cy="1021.77" r="3.45" fill="#fff" stroke="#333" stroke-width="1.3"/>
<circle cx="625.59" cy="1008.16" r="3.45" fill="#fff" stroke="#333" stroke-width="1.3"/>
<circle cx="664.72" cy="986.15" r="3.45" fill="#fff" stroke="#333" stroke-width="1.3"/>
<polyline points="469.06,1069.65 508.19,1055.58 547.33,1031.53 586.46,1015.19 625.59,969.81 664.72,938.5" fill="none" stroke="#333" stroke-width="2.6" stroke-linejoin="round"/>
<circle cx="469.06" cy="1069.65" r="3.8" fill="#333"/>
<circle cx="508.19" cy="1055.58" r="3.8" fill="#333"/>
<circle cx="547.33" cy="1031.53" r="3.8" fill="#333"/>
<circle cx="586.46" cy="1015.19" r="3.8" fill="#333"/>
<circle cx="625.59" cy="969.81" r="3.8" fill="#333"/>
<circle cx="664.72" cy="938.5" r="3.8" fill="#333"/>
<text x="621.19" y="957.6" text-anchor="middle" font-size="11" fill="#333" stroke="#333" stroke-width="0.25">*</text>
<text x="661.72" y="923.6" text-anchor="middle" font-size="11" fill="#333" stroke="#333" stroke-width="0.25">*</text>
<path d="M470.9 907.7H503.7" stroke="#333" stroke-width="1.4"/>
<circle cx="487.3" cy="907.7" r="3.0" fill="#fff" stroke="#333" stroke-width="1.3"/>
<path d="M470.9 928.2H503.7" stroke="#333" stroke-width="2.6"/>
<circle cx="487.3" cy="928.2" r="3.8" fill="#333"/>
<text x="505.9" y="914.6" class="lg">Ctrl</text>
<text x="505.9" y="935.1" class="lg">BV6</text>
</svg>
</body></html>
